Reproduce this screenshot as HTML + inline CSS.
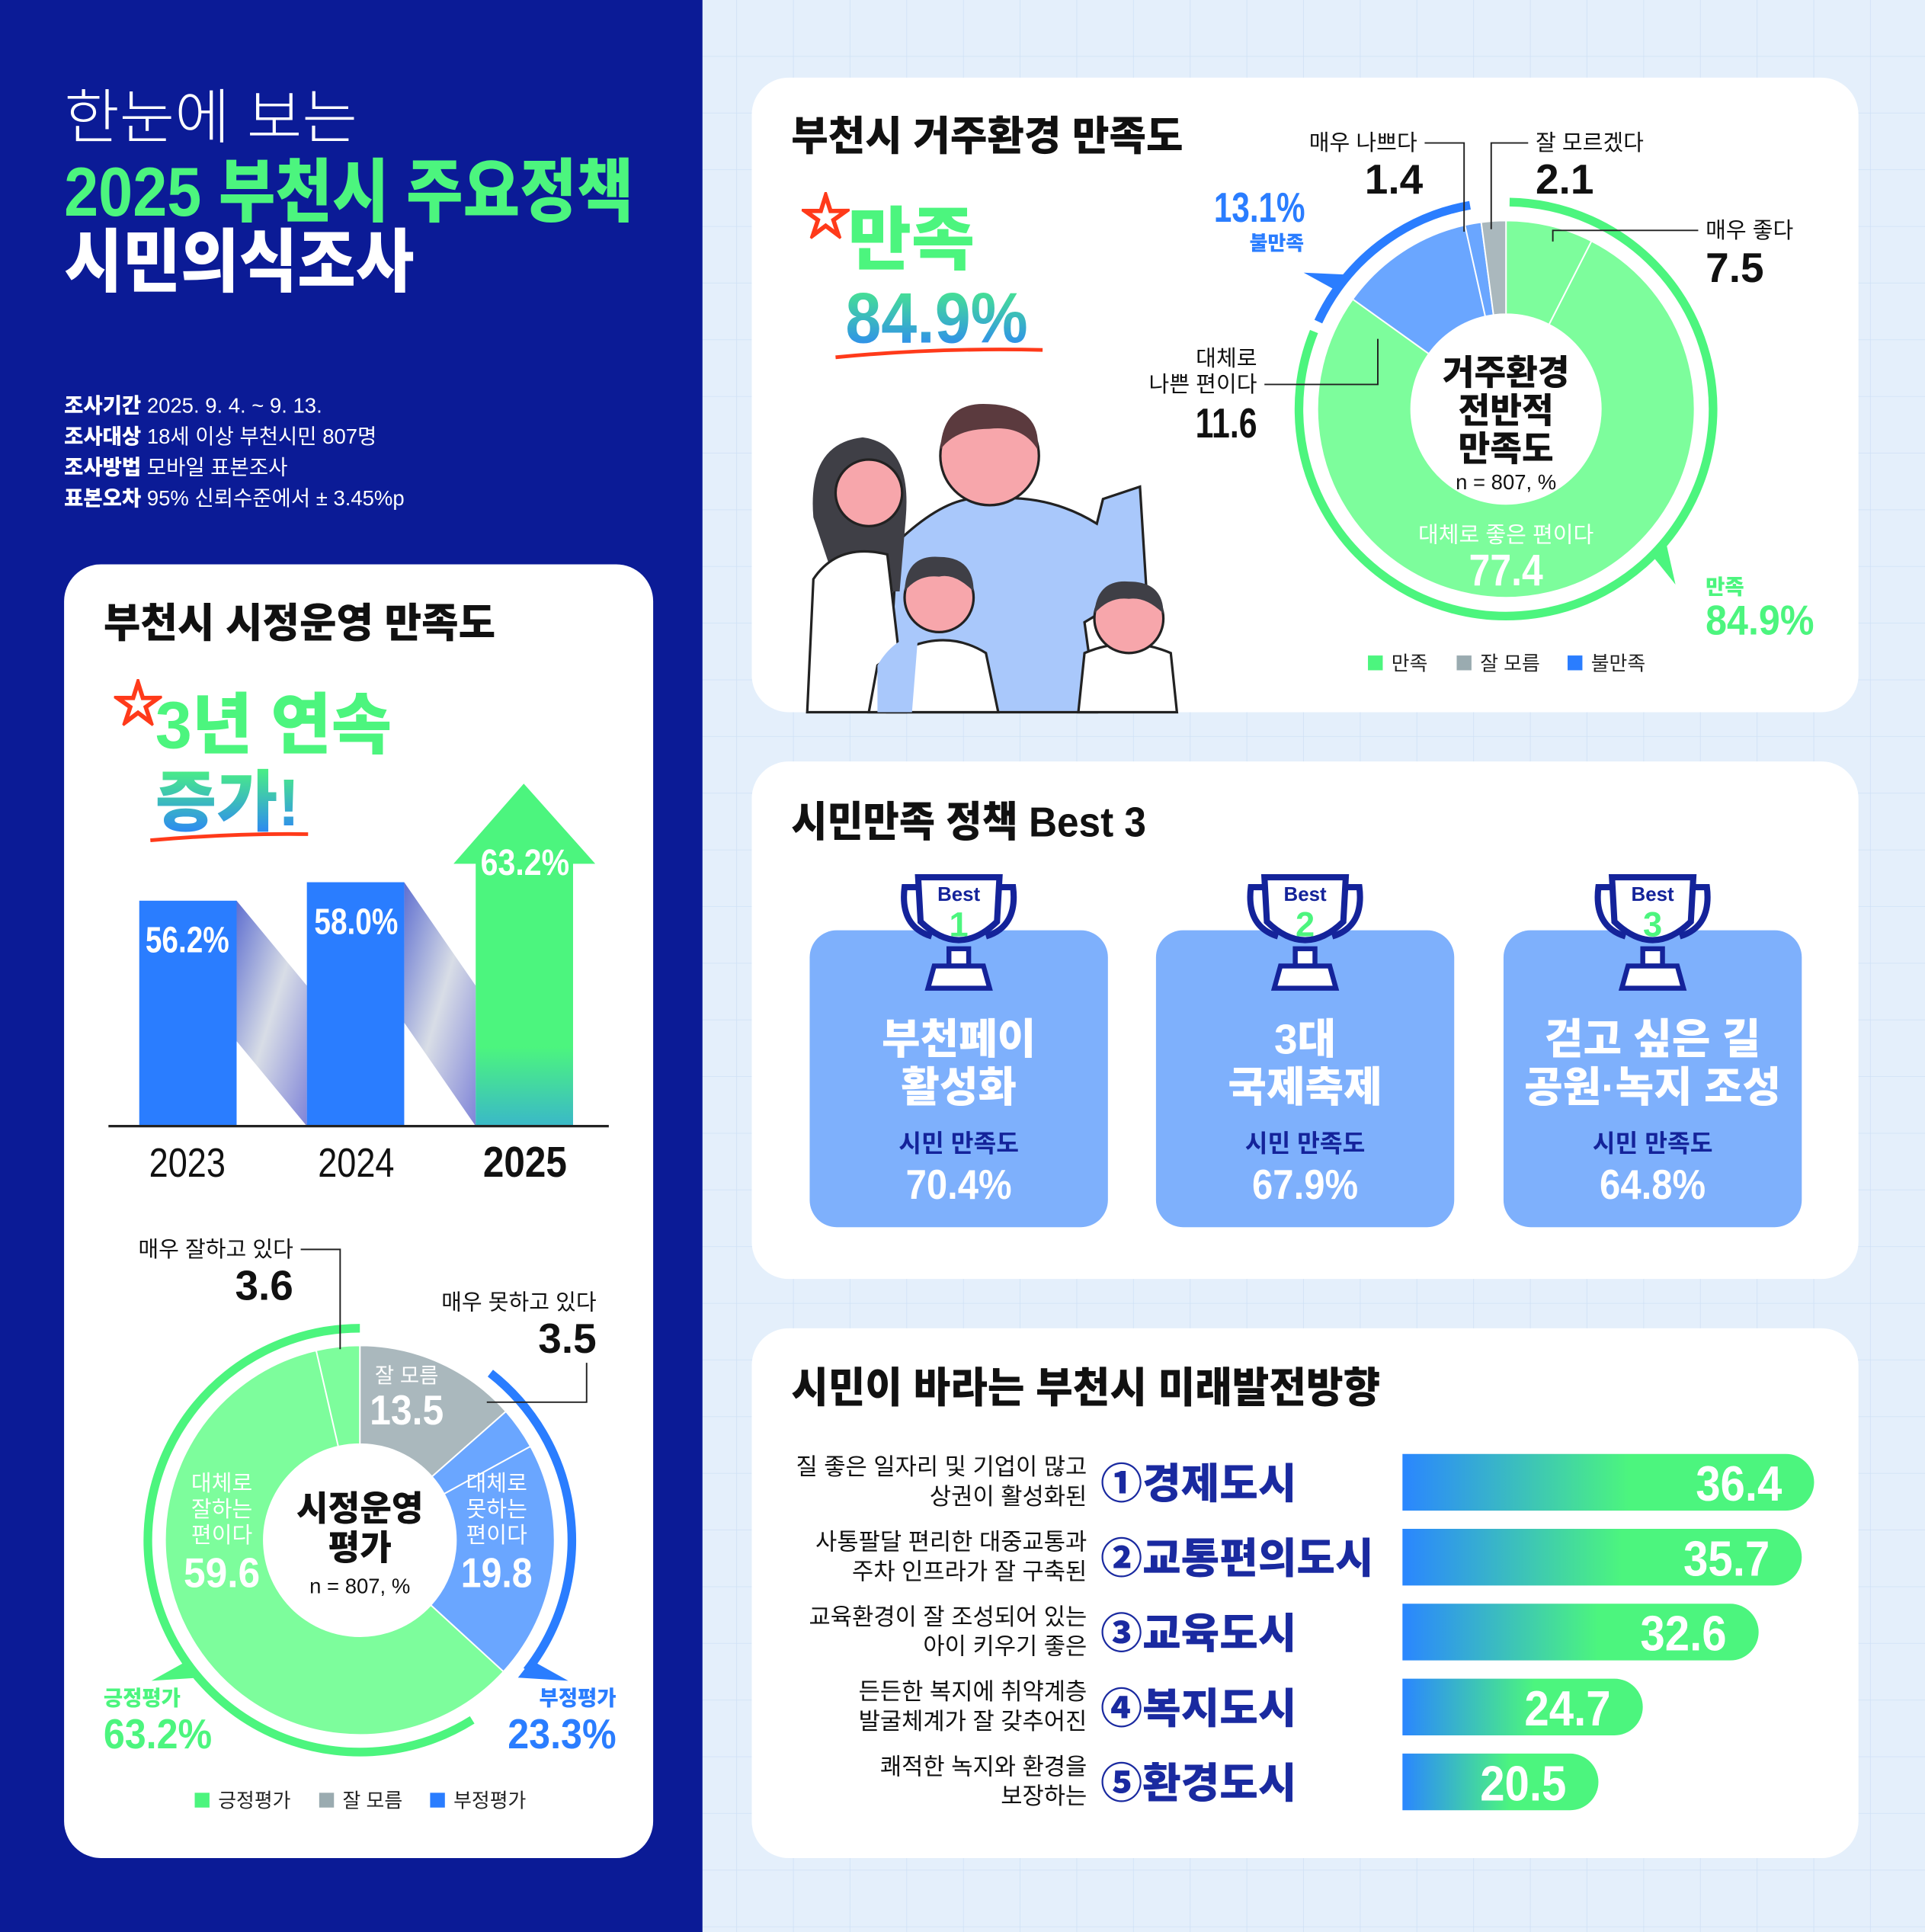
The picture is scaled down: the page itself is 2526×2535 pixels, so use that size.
<!DOCTYPE html>
<html><head><meta charset="utf-8">
<style>
html,body{margin:0;padding:0;background:#e4effb;}
svg{display:block;}
text{font-family:"Liberation Sans","Noto Sans CJK KR",sans-serif;}
.b{font-weight:900;}
</style></head><body>
<svg id="s" xmlns="http://www.w3.org/2000/svg" width="2526" height="2535" viewBox="0 0 1562 1568" preserveAspectRatio="none">
<defs>
<pattern id="grid" width="46" height="46" patternUnits="userSpaceOnUse"><rect width="46" height="46" fill="#e4effb"/><path d="M46 0V46H0" fill="none" stroke="#cfe1f6" stroke-width="1"/></pattern>
<linearGradient id="gv" x1="0" y1="0" x2="0" y2="1"><stop offset="0" stop-color="#4cf57e"/><stop offset="1" stop-color="#2a7dff"/></linearGradient>
<linearGradient id="gbar" x1="0" y1="0" x2="0" y2="1"><stop offset="0" stop-color="#4cf57e"/><stop offset="0.7" stop-color="#4cf57e"/><stop offset="1" stop-color="#3ab8c8"/></linearGradient>
<linearGradient id="gconn" x1="0" y1="0" x2="1" y2="1"><stop offset="0" stop-color="#5f6fd0"/><stop offset="0.5" stop-color="#d8dde6"/><stop offset="1" stop-color="#7f84d8"/></linearGradient>
<linearGradient id="gh" x1="0" y1="0" x2="1" y2="0"><stop offset="0" stop-color="#2a86ff"/><stop offset="0.55" stop-color="#4cf57e"/><stop offset="1" stop-color="#4cf57e"/></linearGradient>
</defs>
<rect width="1562" height="1568" fill="url(#grid)"/>
<rect width="570" height="1568" fill="#0b1b96"/>

<!-- left header -->
<text x="52" y="112" font-size="48" fill="#fff" font-weight="300" textLength="238" lengthAdjust="spacingAndGlyphs">한눈에 보는</text>
<text x="52" y="175" font-size="56" fill="#4cf57e" class="b" textLength="462" lengthAdjust="spacingAndGlyphs">2025 부천시 주요정책</text>
<text x="52" y="232" font-size="56" fill="#fff" class="b" textLength="284" lengthAdjust="spacingAndGlyphs">시민의식조사</text>
<g font-size="17" fill="#fff">
<text x="52" y="335"><tspan font-weight="900">조사기간</tspan>  2025. 9. 4. ~ 9. 13.</text>
<text x="52" y="360"><tspan font-weight="900">조사대상</tspan>  18세 이상 부천시민 807명</text>
<text x="52" y="385"><tspan font-weight="900">조사방법</tspan>  모바일 표본조사</text>
<text x="52" y="410"><tspan font-weight="900">표본오차</tspan>  95% 신뢰수준에서 ± 3.45%p</text>
</g>

<!-- left card -->
<rect x="52" y="458" width="478" height="1050" rx="30" fill="#fff"/>
<text x="84" y="517" font-size="33" class="b" fill="#111" textLength="318" lengthAdjust="spacingAndGlyphs">부천시 시정운영 만족도</text>
<text x="92" y="585" font-size="40" fill="none" stroke="#ff3a1a" stroke-width="2">☆</text>
<text x="126" y="607" font-size="54" class="b" fill="#4cf57e" textLength="192" lengthAdjust="spacingAndGlyphs">3년 연속</text>
<text x="126" y="670" font-size="54" class="b" fill="url(#gv)">증가!</text>
<path d="M122 682 Q190 676 250 677" stroke="#ff3a1a" stroke-width="3" fill="none"/>
<polygon points="192,731 249,800 249,914 192,845" fill="url(#gconn)"/>
<polygon points="328,716 386,800 386,914 328,830" fill="url(#gconn)"/>
<rect x="113" y="731" width="79" height="183" fill="#2a7dff"/>
<rect x="249" y="716" width="79" height="198" fill="#2a7dff"/>
<rect x="386" y="700" width="79" height="214" fill="url(#gbar)"/>
<polygon points="368,701 483,701 425,636" fill="#4cf57e"/>
<line x1="88" y1="914" x2="494" y2="914" stroke="#222" stroke-width="2"/>
<text x="152" y="773" font-size="30" class="b" fill="#fff" text-anchor="middle" textLength="68" lengthAdjust="spacingAndGlyphs">56.2%</text>
<text x="289" y="758" font-size="30" class="b" fill="#fff" text-anchor="middle" textLength="68" lengthAdjust="spacingAndGlyphs">58.0%</text>
<text x="426" y="710" font-size="30" class="b" fill="#fff" text-anchor="middle" textLength="72" lengthAdjust="spacingAndGlyphs">63.2%</text>
<text x="152" y="955" font-size="33" fill="#111" text-anchor="middle" textLength="62" lengthAdjust="spacingAndGlyphs">2023</text>
<text x="289" y="955" font-size="33" fill="#111" text-anchor="middle" textLength="62" lengthAdjust="spacingAndGlyphs">2024</text>
<text x="426" y="955" font-size="35" class="b" fill="#111" text-anchor="middle" textLength="68" lengthAdjust="spacingAndGlyphs">2025</text>

<g id="d1"></g>
<text x="238" y="1020" font-size="18" fill="#111" text-anchor="end">매우 잘하고 있다</text>
<polyline points="244,1014 276,1014 276,1095" fill="none" stroke="#222" stroke-width="1.2"/>
<text x="238" y="1055" font-size="34" class="b" fill="#111" text-anchor="end">3.6</text>
<text x="484" y="1063" font-size="18" fill="#111" text-anchor="end">매우 못하고 있다</text>
<text x="484" y="1098" font-size="34" class="b" fill="#111" text-anchor="end">3.5</text>
<polyline points="476,1106 476,1138 395,1138" fill="none" stroke="#222" stroke-width="1.2"/>
<text x="330" y="1122" font-size="17" fill="#fff" text-anchor="middle">잘 모름</text>
<text x="330" y="1156" font-size="34" class="b" fill="#fff" text-anchor="middle" textLength="60" lengthAdjust="spacingAndGlyphs">13.5</text>
<g font-size="18" fill="#fff" text-anchor="middle">
<text x="180" y="1210">대체로</text><text x="180" y="1231">잘하는</text><text x="180" y="1252">편이다</text>
<text x="403" y="1210">대체로</text><text x="403" y="1231">못하는</text><text x="403" y="1252">편이다</text></g>
<text x="180" y="1288" font-size="34" class="b" fill="#fff" text-anchor="middle" textLength="62" lengthAdjust="spacingAndGlyphs">59.6</text>
<text x="403" y="1288" font-size="34" class="b" fill="#fff" text-anchor="middle" textLength="58" lengthAdjust="spacingAndGlyphs">19.8</text>
<text x="292" y="1234" font-size="28" class="b" fill="#111" text-anchor="middle">시정운영</text>
<text x="292" y="1266" font-size="28" class="b" fill="#111" text-anchor="middle">평가</text>
<text x="292" y="1293" font-size="17" fill="#111" text-anchor="middle">n = 807, %</text>
<text x="84" y="1384" font-size="17" class="b" fill="#4cf57e">긍정평가</text>
<text x="84" y="1419" font-size="34" class="b" fill="#4cf57e" textLength="88" lengthAdjust="spacingAndGlyphs">63.2%</text>
<text x="500" y="1384" font-size="17" class="b" fill="#2a7dff" text-anchor="end">부정평가</text>
<text x="500" y="1419" font-size="34" class="b" fill="#2a7dff" text-anchor="end" textLength="88" lengthAdjust="spacingAndGlyphs">23.3%</text>
<rect x="158" y="1455" width="12" height="12" fill="#4cf57e"/><text x="177" y="1467" font-size="16" fill="#222">긍정평가</text>
<rect x="259" y="1455" width="12" height="12" fill="#9aabb0"/><text x="278" y="1467" font-size="16" fill="#222">잘 모름</text>
<rect x="349" y="1455" width="12" height="12" fill="#2a7dff"/><text x="368" y="1467" font-size="16" fill="#222">부정평가</text>

<!-- top right card -->
<rect x="610" y="63" width="898" height="515" rx="30" fill="#fff"/>
<text x="642" y="122" font-size="33" class="b" fill="#111" textLength="318" lengthAdjust="spacingAndGlyphs">부천시 거주환경 만족도</text>
<text x="650" y="190" font-size="40" fill="none" stroke="#ff3a1a" stroke-width="2">☆</text>
<text x="688" y="214" font-size="56" class="b" fill="#4cf57e">만족</text>
<text x="686" y="278" font-size="58" class="b" fill="url(#gv)" textLength="148" lengthAdjust="spacingAndGlyphs">84.9%</text>
<path d="M678 290 Q760 282 846 284" stroke="#ff3a1a" stroke-width="3" fill="none"/>
<!-- family (simplified) -->
<g>
<path d="M728 440 Q770 400 800 405 Q850 400 890 425 L895 405 L925 395 L930 475 L880 505 L890 578 L720 578 Z" fill="#a9c8fb" stroke="#222" stroke-width="2"/>
<circle cx="803" cy="370" r="40" fill="#f7a6ab" stroke="#222" stroke-width="2"/>
<path d="M763 365 Q765 325 803 328 Q845 330 842 365 Q830 345 803 348 Q775 348 763 365Z" fill="#5b3a3e"/>
<path d="M660 420 Q655 360 700 355 Q740 360 735 420 L730 480 L680 480Z" fill="#3f3f46"/>
<circle cx="705" cy="400" r="27" fill="#f7a6ab" stroke="#222" stroke-width="2"/>
<path d="M660 470 Q680 440 720 450 L735 578 L655 578Z" fill="#fff" stroke="#222" stroke-width="2"/>
<path d="M712 540 Q760 505 800 530 L810 578 L705 578Z" fill="#fff" stroke="#222" stroke-width="2"/>
<path d="M712 540 Q725 518 745 515 L740 578 L712 578Z" fill="#a9c8fb"/>
<circle cx="762" cy="485" r="28" fill="#f7a6ab" stroke="#222" stroke-width="2"/>
<path d="M734 480 Q735 450 762 452 Q790 452 790 480 Q775 465 762 468 Q745 466 734 480Z" fill="#3f3f46"/>
<path d="M880 530 Q915 515 950 530 L955 578 L875 578Z" fill="#fff" stroke="#222" stroke-width="2"/>
<circle cx="916" cy="502" r="28" fill="#f7a6ab" stroke="#222" stroke-width="2"/>
<path d="M888 498 Q890 470 916 472 Q944 472 944 498 Q930 484 916 486 Q900 484 888 498Z" fill="#3f3f46"/>
</g>

<g id="d2"></g>
<g font-size="18" fill="#111">
<text x="1150" y="122" text-anchor="end">매우 나쁘다</text>
<text x="1246" y="122">잘 모르겠다</text>
<text x="1384" y="193">매우 좋다</text>
<text x="1020" y="297" text-anchor="end">대체로</text>
<text x="1020" y="318" text-anchor="end">나쁜 편이다</text>
</g>
<g font-size="34" class="b" fill="#111">
<text x="1131" y="157" text-anchor="middle">1.4</text>
<text x="1246" y="157">2.1</text>
<text x="1384" y="229">7.5</text>
<text x="1020" y="355" text-anchor="end" textLength="50" lengthAdjust="spacingAndGlyphs">11.6</text>
</g>
<polyline points="1156,116 1188,116 1188,188" fill="none" stroke="#222" stroke-width="1.2"/>
<polyline points="1240,116 1210,116 1210,186" fill="none" stroke="#222" stroke-width="1.2"/>
<polyline points="1378,187 1260,187 1260,196" fill="none" stroke="#222" stroke-width="1.2"/>
<polyline points="1026,312 1118,312 1118,275" fill="none" stroke="#222" stroke-width="1.2"/>
<text x="1022" y="180" font-size="34" class="b" fill="#2a7dff" text-anchor="middle" textLength="74" lengthAdjust="spacingAndGlyphs">13.1%</text>
<text x="1036" y="203" font-size="16" class="b" fill="#2a7dff" text-anchor="middle">불만족</text>
<text x="1222" y="312" font-size="28" class="b" fill="#111" text-anchor="middle">거주환경</text>
<text x="1222" y="343" font-size="28" class="b" fill="#111" text-anchor="middle">전반적</text>
<text x="1222" y="374" font-size="28" class="b" fill="#111" text-anchor="middle">만족도</text>
<text x="1222" y="397" font-size="17" fill="#111" text-anchor="middle">n = 807, %</text>
<text x="1222" y="440" font-size="18" fill="#fff" text-anchor="middle">대체로 좋은 편이다</text>
<text x="1222" y="475" font-size="36" class="b" fill="#fff" text-anchor="middle" textLength="60" lengthAdjust="spacingAndGlyphs">77.4</text>
<text x="1384" y="482" font-size="17" class="b" fill="#4cf57e">만족</text>
<text x="1384" y="515" font-size="34" class="b" fill="#4cf57e" textLength="88" lengthAdjust="spacingAndGlyphs">84.9%</text>
<rect x="1110" y="532" width="12" height="12" fill="#4cf57e"/><text x="1129" y="544" font-size="16" fill="#222">만족</text>
<rect x="1182" y="532" width="12" height="12" fill="#9aabb0"/><text x="1201" y="544" font-size="16" fill="#222">잘 모름</text>
<rect x="1272" y="532" width="12" height="12" fill="#2a7dff"/><text x="1291" y="544" font-size="16" fill="#222">불만족</text>

<!-- middle card -->
<rect x="610" y="618" width="898" height="420" rx="30" fill="#fff"/>
<text x="642" y="679" font-size="34" class="b" fill="#111" textLength="288" lengthAdjust="spacingAndGlyphs">시민만족 정책 Best 3</text>
<g id="best"></g>

<!-- bottom card -->
<rect x="610" y="1078" width="898" height="430" rx="30" fill="#fff"/>
<text x="642" y="1138" font-size="34" class="b" fill="#111" textLength="478" lengthAdjust="spacingAndGlyphs">시민이 바라는 부천시 미래발전방향</text>
<g id="dir"></g>
</svg>
<script>
var NS="http://www.w3.org/2000/svg";
function el(p,t,a,txt){var e=document.createElementNS(NS,t);for(var k in a)e.setAttribute(k,a[k]);if(txt)e.textContent=txt;p.appendChild(e);return e;}
function pt(cx,cy,r,a){a=a*Math.PI/180;return [cx+r*Math.sin(a),cy-r*Math.cos(a)];}
function seg(g,cx,cy,r0,r1,a0,a1,c){var p1=pt(cx,cy,r1,a0),p2=pt(cx,cy,r1,a1),p3=pt(cx,cy,r0,a1),p4=pt(cx,cy,r0,a0),l=(a1-a0)>180?1:0;
el(g,'path',{d:'M'+p1+' A'+r1+','+r1+' 0 '+l+' 1 '+p2+' L'+p3+' A'+r0+','+r0+' 0 '+l+' 0 '+p4+'Z',fill:c,stroke:'#fff','stroke-width':1.2});}
function arc(g,cx,cy,r,a0,a1,c,w){var p1=pt(cx,cy,r,a0),p2=pt(cx,cy,r,a1),l=(a1-a0)>180?1:0;
el(g,'path',{d:'M'+p1+' A'+r+','+r+' 0 '+l+' 1 '+p2,fill:'none',stroke:c,'stroke-width':w});}
function ptr(g,cx,cy,r,a,len,dir,c){var b1=pt(cx,cy,r-2,a-3),b2=pt(cx,cy,r-2,a+3),t=pt(cx,cy,r+len,a+dir);el(g,'polygon',{points:b1+' '+b2+' '+t,fill:c});}
var G='#7dfd9c',GR='#aab8bd',B='#6aa6ff';
var d1=document.getElementById('d1'),cx=292,cy=1250;
var segs=[[13.5,GR],[3.5,B],[19.8,B],[59.6,G],[3.6,G]],a=0;
segs.forEach(function(s){var a1=a+s[0]*3.6;seg(d1,cx,cy,78,158,a,a1,s[1]);a=a1;});
el(d1,'circle',{cx:cx,cy:cy,r:78,fill:'#fff'});
arc(d1,cx,cy,172,148,360,'#4cf57e',7);
arc(d1,cx,cy,172,38,128,'#2a7dff',7);
ptr(d1,cx,cy,172,232,32,4,'#4cf57e');
ptr(d1,cx,cy,172,128,32,-4,'#2a7dff');
var d2=document.getElementById('d2');cx=1222;cy=332;
segs=[[7.5,G],[77.4,G],[11.6,B],[1.4,B],[2.1,GR]];a=0;
segs.forEach(function(s){var a1=a+s[0]*3.6;seg(d2,cx,cy,77,153,a,a1,s[1]);a=a1;});
el(d2,'circle',{cx:cx,cy:cy,r:77,fill:'#fff'});
arc(d2,cx,cy,168,1,292,'#4cf57e',7);
arc(d2,cx,cy,168,295,350,'#2a7dff',7);
ptr(d2,cx,cy,168,132,30,4,'#4cf57e');
ptr(d2,cx,cy,168,308,30,-4,'#2a7dff');
var bg=document.getElementById('best');
var best=[[657,'1','부천페이','활성화','70.4%'],[938,'2','3대','국제축제','67.9%'],[1220,'3','걷고 싶은 길','공원·녹지 조성','64.8%']];
best.forEach(function(b){var x=b[0],c=x+121;
el(bg,'rect',{x:x,y:755,width:242,height:241,rx:22,fill:'#7eb0fc'});
var N='#14239a';
el(bg,'path',{d:'M'+(c-30)+' 720 L'+(c-44)+' 720 Q'+(c-48)+' 752 '+(c-22)+' 760 M'+(c+30)+' 720 L'+(c+44)+' 720 Q'+(c+48)+' 752 '+(c+22)+' 760',fill:'none',stroke:N,'stroke-width':5});
el(bg,'path',{d:'M'+(c-33)+' 712 L'+(c+33)+' 712 L'+(c+31)+' 748 Q'+c+' 778 '+(c-31)+' 748 Z',fill:'#fff',stroke:N,'stroke-width':5});
el(bg,'rect',{x:c-8,y:770,width:16,height:14,fill:'#fff',stroke:N,'stroke-width':4});
el(bg,'path',{d:'M'+(c-25)+' 802 L'+(c+25)+' 802 L'+(c+20)+' 784 L'+(c-20)+' 784 Z',fill:'#fff',stroke:N,'stroke-width':4});
el(bg,'text',{x:c,y:731,'font-size':16,'font-weight':900,fill:N,'text-anchor':'middle'},'Best');
el(bg,'text',{x:c,y:760,'font-size':28,'font-weight':900,fill:'#4cf57e','text-anchor':'middle'},b[1]);
el(bg,'text',{x:c,y:855,'font-size':34,'font-weight':900,fill:'#fff','text-anchor':'middle'},b[2]);
el(bg,'text',{x:c,y:894,'font-size':34,'font-weight':900,fill:'#fff','text-anchor':'middle'},b[3]);
el(bg,'text',{x:c,y:935,'font-size':20,'font-weight':700,fill:N,'text-anchor':'middle'},'시민 만족도');
el(bg,'text',{x:c,y:973,'font-size':34,'font-weight':900,fill:'#fff','text-anchor':'middle',textLength:86,lengthAdjust:'spacingAndGlyphs'},b[4]);
});
var dg=document.getElementById('dir');
var rows=[['질 좋은 일자리 및 기업이 많고','상권이 활성화된','①경제도시','36.4',1472],
['사통팔달 편리한 대중교통과','주차 인프라가 잘 구축된','②교통편의도시','35.7',1462],
['교육환경이 잘 조성되어 있는','아이 키우기 좋은','③교육도시','32.6',1427],
['든든한 복지에 취약계층','발굴체계가 잘 갖추어진','④복지도시','24.7',1333],
['쾌적한 녹지와 환경을','보장하는','⑤환경도시','20.5',1297]];
rows.forEach(function(r,i){var y=1203+i*60.8;
el(dg,'text',{x:882,y:y-6,'font-size':19,fill:'#111','text-anchor':'end'},r[0]);
el(dg,'text',{x:882,y:y+18,'font-size':19,fill:'#111','text-anchor':'end'},r[1]);
el(dg,'text',{x:893,y:y+13,'font-size':34,'font-weight':900,fill:'#1a2aa0'},r[2]);
var x0=1138,x1=r[4],h=46,t=y-23;
el(dg,'path',{d:'M'+x0+' '+t+' L'+(x1-23)+' '+t+' A23,23 0 0 1 '+(x1-23)+' '+(t+h)+' L'+x0+' '+(t+h)+'Z',fill:'url(#gh)'});
el(dg,'text',{x:x1-26,y:y+15,'font-size':40,'font-weight':900,fill:'#fff','text-anchor':'end',textLength:70,lengthAdjust:'spacingAndGlyphs'},r[3]);
});
</script>
</body></html>
